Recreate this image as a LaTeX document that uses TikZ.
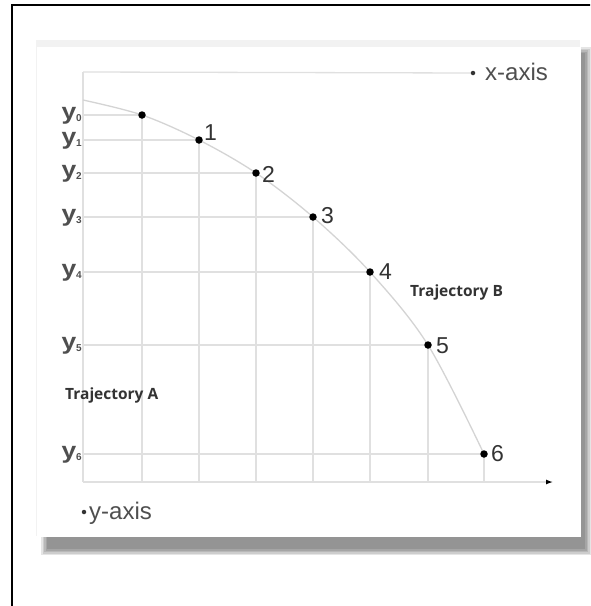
\documentclass[tikz,border=0pt]{standalone}
\usepackage{fontspec}
\setmainfont{Liberation Sans}
\newfontfamily\trajfont{Open Sans}
\usetikzlibrary{arrows.meta}
\definecolor{gridc}{HTML}{E0E0E0}
\definecolor{curvec}{HTML}{D4D4D4}
\definecolor{labc}{HTML}{4F4F4F}
\definecolor{numc}{HTML}{333333}
\newcommand{\ysub}[1]{\scalebox{1.15}[1]{y}\raisebox{-2pt}{\fontsize{10}{10}\selectfont #1}}
\begin{document}
\begin{tikzpicture}[x=1pt,y=-1pt,
  gridline/.style={draw=gridc,line width=1.3pt},
  curveline/.style={draw=curvec,line width=1.3pt},
  dotnode/.style={circle,fill=black,inner sep=0pt,minimum size=7.5pt},
  smalldot/.style={circle,fill=black!80,inner sep=0pt,minimum size=4.5pt},
  numlab/.style={text=numc,font=\fontsize{23}{23}\selectfont,inner sep=0pt,anchor=west},
  ylab/.style={text=labc,font=\bfseries\fontsize{23}{23}\selectfont,inner sep=0pt,anchor=base east},
  axlab/.style={text=labc,font=\fontsize{24}{24}\selectfont,inner sep=0pt,anchor=base west},
  trajlab/.style={text=numc,font=\trajfont\bfseries\fontsize{15.5}{15.5}\selectfont,inner sep=0pt,anchor=west},
]
\useasboundingbox (0,0) rectangle (590,606);
\fill[white] (0,0) rectangle (590,606);
% outer frame (only left and top edges fall inside the picture)
\begin{scope}
  \clip (0,0) rectangle (590,606);
  \draw[line width=2pt] (12,700) -- (12,5) -- (700,5);
\end{scope}
% panel shadow
\foreach \e in {0,1.5,3,4.5,6} {
  \fill[black,opacity=0.1] ({41+\e},{47+\e}) rectangle ({591-\e},{555-\e});
}
% panel
\fill[white] (35,42) rectangle (581,537);
\fill[black!5] (36,40) rectangle (580,47);
\draw[black!5,line width=1pt] (36,42) -- (36,536);

% axes
\coordinate (O) at (83,72);
\coordinate (Ybot) at (83,482);
\coordinate (Xarrow) at (553,482);
\coordinate (xdotc) at (473,73);
\draw[gridline] (O) -- (xdotc);
\draw[gridline] (O) -- (Ybot);
\draw[gridline,-{Latex[length=7pt,width=5pt,color=black]}] (Ybot) -- (Xarrow);
\node[smalldot] (xdot) at (xdotc) {};
\node[axlab] (xlab) at (485,80) {x-axis};
\node[smalldot] (ydot) at (84,512) {};
\node[axlab] (ylabel) at (89,519) {y-axis};

% point positions
\foreach \i/\xx/\yy in {0/142/115,1/199/140,2/256/173,3/313/217,4/370/272,5/428/345,6/484/454} {
  \coordinate (q\i) at (\xx,\yy);
  \coordinate (L\i) at (83,\yy);
  \coordinate (B\i) at (\xx,482);
  \draw[gridline] (L\i) -- (q\i);
  \draw[gridline] (q\i) -- (B\i);
}

% trajectory curve
\coordinate (c0) at (83,100);
\draw[curveline] plot[smooth,tension=0.55] coordinates {(c0) (q0) (q1) (q2) (q3) (q4) (q5) (q6)};

% points
\foreach \i in {0,...,6} { \node[dotnode] (p\i) at (q\i) {}; }

% y labels
\foreach \i/\yy in {0/119,1/144,2/177,3/221,4/276,5/349,6/458} {
  \node[ylab] (yl\i) at (82,\yy) {\ysub{\i}};
}

% number labels
\node[numlab] (n1) at (204,133) {1};
\node[numlab] (n2) at (262,174) {2};
\node[numlab] (n3) at (321,216) {3};
\node[numlab] (n4) at (379,272) {4};
\node[numlab] (n5) at (436,346) {5};
\node[numlab] (n6) at (491,454) {6};

% trajectory labels
\node[trajlab] (ta) at (65,395) {Trajectory A};
\node[trajlab] (tb) at (410,292) {Trajectory B};
\end{tikzpicture}
\end{document}
